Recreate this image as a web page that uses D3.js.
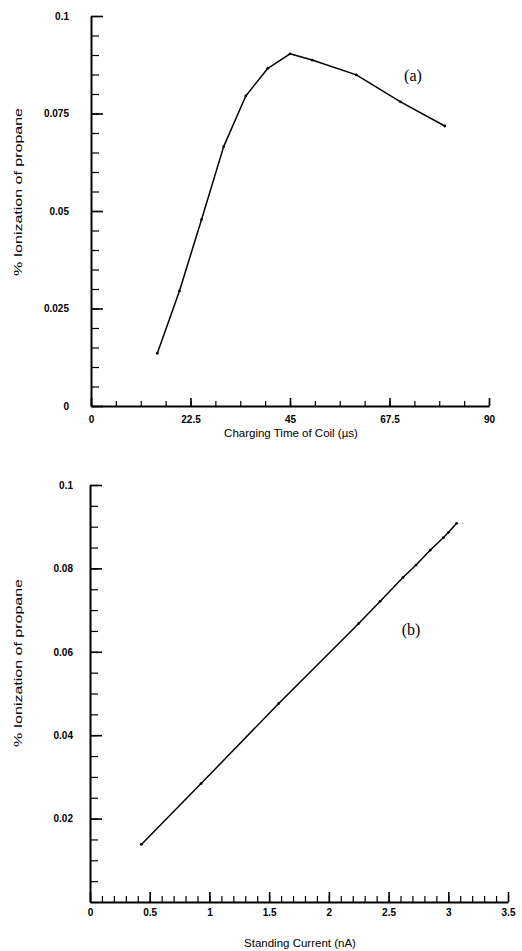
<!DOCTYPE html>
<html>
<head>
<meta charset="utf-8">
<script src="https://cdn.jsdelivr.net/npm/d3@7"></script>
<style>
  body { margin: 0; background: #fff; }
  svg { display: block; }
  .tick text { font-family: "Liberation Sans", Arial, sans-serif; font-weight: bold; font-size: 10px; fill: #000; }
  .domain, .tick line { stroke: #000; }
  .title { font-family: "Liberation Sans", Arial, sans-serif; font-size: 11.5px; fill: #000; }
  .panel { font-family: "Liberation Serif", "Times New Roman", serif; font-size: 16px; fill: #000; }
</style>
</head>
<body>
<svg id="chart" width="522" height="951"></svg>
<script>
// panel (a): ionization vs charging time of coil
const chargeTime = [15, 20, 25, 30, 35, 40, 45, 50, 60, 70, 80]
const ionA = [0.0135, 0.0295, 0.0478, 0.0665, 0.0795, 0.0866, 0.0903, 0.0887, 0.0849, 0.078, 0.0718]
const xTicksA = [0, 22.5, 45, 67.5, 90]
const yTicksA = [0, 0.025, 0.05, 0.075, 0.1]

// panel (b): ionization vs standing current
const current = [0.43, 0.93, 1.58, 2.25, 2.43, 2.62, 2.73, 2.85, 2.96, 3.0, 3.07]
const ionB = [0.0138, 0.0284, 0.0476, 0.0668, 0.0721, 0.0778, 0.0808, 0.0844, 0.0874, 0.0886, 0.0908]
const xTicksB = [0, 0.5, 1, 1.5, 2, 2.5, 3, 3.5]
const yTicksB = [0.02, 0.04, 0.06, 0.08, 0.1]

const svg = d3.select('#chart')

const panels = [
  {
    xs: chargeTime, ys: ionA,
    xDomain: [0, 90], xRange: [91, 489],
    yDomain: [0, 0.1], yRange: [406, 16],
    xTicks: xTicksA, xMinorStep: 5.625, xFmt: (d) => d,
    yTicks: yTicksA, yMinorStep: 0.005, yFmt: (d) => (d === 0 ? '0' : d),
    xMajor: 8, xMinor: 5, xPad: 10, yPad: 22,
    xTitle: 'Charging Time of Coil (µs)', xTitleY: 437,
    yTitleY: 192,
    label: '(a)', labelX: 413, labelY: 81,
  },
  {
    xs: current, ys: ionB,
    xDomain: [0, 3.5], xRange: [90, 508],
    yDomain: [0, 0.1], yRange: [902, 485],
    xTicks: xTicksB, xMinorStep: 0.1, xFmt: (d) => d,
    yTicks: yTicksB, yMinorStep: 0.005, yFmt: (d) => d,
    xMajor: 10, xMinor: 6, xPad: 7, yPad: 17,
    xTitle: 'Standing Current (nA)', xTitleY: 947,
    yTitleY: 663,
    label: '(b)', labelX: 411, labelY: 635,
  },
]

panels.forEach((p) => {
  const x = d3.scaleLinear().domain(p.xDomain).range(p.xRange)
  const y = d3.scaleLinear().domain(p.yDomain).range(p.yRange)
  const g = svg.append('g')

  const nx = Math.round((p.xDomain[1] - p.xDomain[0]) / p.xMinorStep)
  const xMinor = d3.range(nx + 1).map((i) => p.xDomain[0] + i * p.xMinorStep)
  const ny = Math.round((p.yDomain[1] - p.yDomain[0]) / p.yMinorStep)
  const yMinor = d3.range(ny + 1).map((i) => p.yDomain[0] + i * p.yMinorStep)

  // minor ticks first
  g.append('g')
    .attr('transform', `translate(0,${p.yRange[0]})`)
    .call(d3.axisBottom(x).tickValues(xMinor).tickSize(-p.xMinor).tickSizeOuter(0).tickFormat(''))
    .call((s) => s.select('.domain').remove())
    .selectAll('line').attr('stroke-width', 1.2)

  g.append('g')
    .attr('transform', `translate(${p.xRange[0]},0)`)
    .call(d3.axisLeft(y).tickValues(yMinor).tickSize(-8).tickSizeOuter(0).tickFormat(''))
    .call((s) => s.select('.domain').remove())
    .selectAll('line').attr('stroke-width', 1.2)

  // major x axis
  const xAxis = g.append('g')
    .attr('transform', `translate(0,${p.yRange[0]})`)
    .call(d3.axisBottom(x).tickValues(p.xTicks).tickSize(-p.xMajor).tickSizeOuter(0)
      .tickPadding(p.xPad).tickFormat(p.xFmt))
  xAxis.select('.domain').attr('stroke-width', 2)
  xAxis.selectAll('line').attr('stroke-width', 1.6)

  // major y axis
  const yAxis = g.append('g')
    .attr('transform', `translate(${p.xRange[0]},0)`)
    .call(d3.axisLeft(y).tickValues(p.yTicks).tickSize(-12).tickSizeOuter(0)
      .tickPadding(p.yPad).tickFormat(p.yFmt))
  yAxis.select('.domain').attr('stroke-width', 2)
  yAxis.selectAll('line').attr('stroke-width', 1.6)

  // data line
  const pts = p.xs.map((d, i) => [d, p.ys[i]])
  g.append('path')
    .datum(pts)
    .attr('fill', 'none')
    .attr('stroke', '#000')
    .attr('stroke-width', 1.5)
    .attr('stroke-linejoin', 'round')
    .attr('d', d3.line().x((d) => x(d[0])).y((d) => y(d[1])))

  g.append('g')
    .selectAll('circle')
    .data(pts)
    .join('circle')
    .attr('cx', (d) => x(d[0]))
    .attr('cy', (d) => y(d[1]))
    .attr('r', 1.4)
    .attr('fill', '#000')

  // titles
  g.append('text')
    .attr('class', 'title')
    .attr('x', (p.xRange[0] + p.xRange[1]) / 2 + 1)
    .attr('y', p.xTitleY)
    .attr('text-anchor', 'middle')
    .text(p.xTitle)

  g.append('text')
    .attr('class', 'title')
    .attr('transform', `translate(22,${p.yTitleY}) rotate(-90)`)
    .attr('text-anchor', 'middle')
    .attr('textLength', 168)
    .attr('lengthAdjust', 'spacingAndGlyphs')
    .text('% Ionization of propane')

  g.append('text')
    .attr('class', 'panel')
    .attr('x', p.labelX)
    .attr('y', p.labelY)
    .attr('text-anchor', 'middle')
    .text(p.label)
})
</script>
</body>
</html>
